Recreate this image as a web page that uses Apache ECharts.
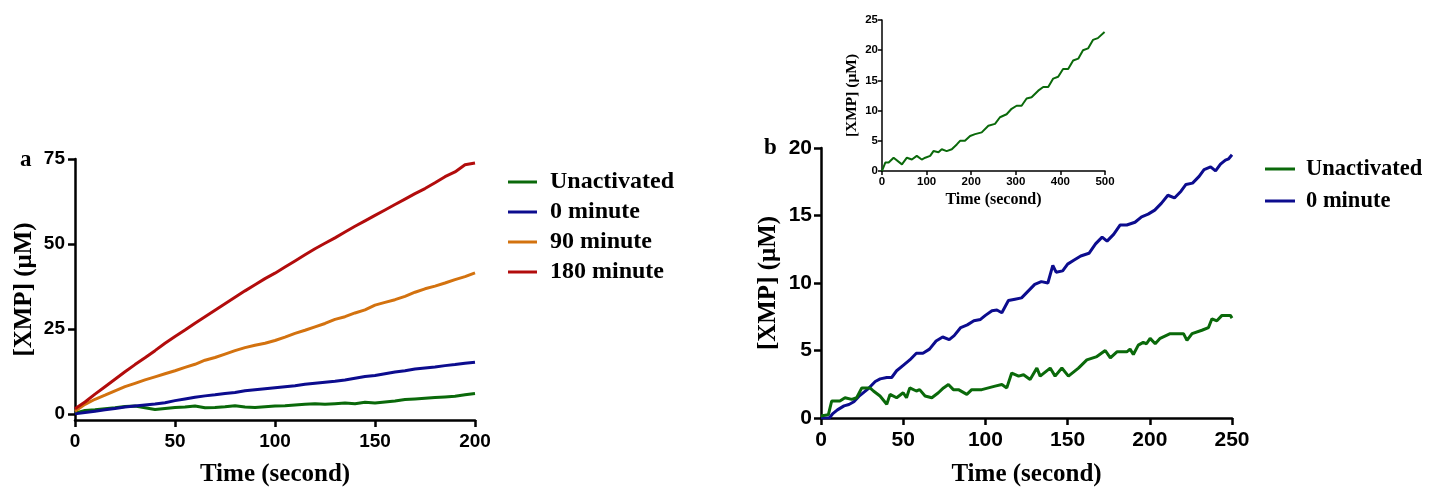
<!DOCTYPE html>
<html>
<head>
<meta charset="utf-8">
<script src="https://cdn.jsdelivr.net/npm/echarts@6/dist/echarts.min.js"></script>
<style>
  html, body { margin: 0; padding: 0; background: #fff; }
  #chart { width: 1429px; height: 492px; }
</style>
</head>
<body>
<div id="chart"></div>
<script>
// ---------- Panel a: XMP formation, 0–200 s, sampled every 5 s ----------
const timeA = [0,5,10,15,20,25,30,35,40,45,50,55,60,65,70,75,80,85,90,95,100,
  105,110,115,120,125,130,135,140,145,150,155,160,165,170,175,180,185,190,195,200];
const aUnactivated = [0.2,1.0,1.2,1.5,1.8,2.2,2.3,1.8,1.3,1.6,1.9,2.0,2.3,1.8,1.9,2.1,2.4,2.0,1.9,2.1,2.3,
  2.4,2.6,2.8,3.0,2.8,3.0,3.2,3.0,3.4,3.2,3.5,3.8,4.2,4.4,4.6,4.8,5.0,5.2,5.6,6.0];
const a0min = [0,0.4,0.8,1.2,1.6,2.0,2.3,2.6,2.9,3.3,3.9,4.4,4.9,5.3,5.6,6.0,6.3,6.8,7.1,7.4,7.7,
  8.0,8.3,8.7,9.0,9.3,9.6,10.0,10.5,11.0,11.3,11.8,12.3,12.7,13.2,13.5,13.8,14.2,14.5,14.9,15.2];
const a90min = [0.8,2.8,4.3,5.5,6.8,8.0,9.0,10.0,10.9,11.8,12.7,13.7,14.6,15.8,16.6,17.6,18.6,19.5,20.2,20.8,21.6,
  22.6,23.7,24.6,25.6,26.6,27.8,28.6,29.7,30.6,32.0,32.8,33.6,34.6,35.8,36.8,37.6,38.5,39.5,40.4,41.5];
const a180min = [1.5,3.5,5.8,8.0,10.2,12.4,14.5,16.5,18.6,20.8,22.8,24.7,26.7,28.6,30.5,32.4,34.3,36.2,38.0,39.8,41.4,
  43.2,45.0,46.8,48.6,50.2,51.8,53.5,55.2,56.8,58.4,60.0,61.6,63.2,64.8,66.3,68.0,69.8,71.2,73.3,73.8];
const aYTicks = [0, 25, 50, 75];

// ---------- Panel b: 0–250 s ----------
const bTimeBlue = [0,5,7,10,14,17,20,23,26,29,33,36,40,43,46,50,54,58,62,66,70,74,78,81,85,89,93,97,100,
  104,107,110,114,118,122,126,130,134,138,141,143,147,150,154,158,163,167,171,174,178,182,186,191,195,199,
  203,207,211,215,219,222,226,230,233,237,240,243,246,248,250];
const b0min = [0,0,0.3,0.6,0.9,1.0,1.2,1.6,1.9,2.2,2.7,2.9,3.0,3.0,3.5,3.9,4.3,4.8,4.8,5.1,5.7,6.0,5.8,6.1,6.7,6.9,7.2,7.3,7.6,
  7.95,8.0,7.8,8.7,8.8,8.9,9.4,9.9,10.1,10.0,11.3,10.8,10.9,11.4,11.7,12.0,12.2,12.9,13.4,13.1,13.6,14.3,14.3,14.5,14.9,15.1,
  15.4,15.9,16.5,16.3,16.8,17.3,17.4,17.9,18.4,18.6,18.3,18.8,19.1,19.2,19.5];
const bTimeGreen = [0,4.5,6.5,11.5,14.6,18.7,21.7,24.8,29.8,31.9,35.9,40,42,46,50,52,54,58,60,63.3,67.4,71.4,74.5,77.5,80.5,
  83.6,88.7,91.7,97.8,105.9,110,113,116,120.2,123.2,127.2,131.3,133.3,139.4,142.4,146.5,150.5,156.6,161.7,167.8,
  172.9,176,180,186,188,190,193,196,198,200.2,203.3,206.3,212.4,220.5,222.6,225.7,231.7,235.7,237.8,240.8,243.9,249,250];
const bUnactivated = [0.15,0.25,1.26,1.26,1.5,1.38,1.5,2.23,2.23,2.0,1.63,1.02,1.75,1.5,1.87,1.5,2.23,2.0,2.1,1.63,1.5,1.87,2.23,2.48,2.1,
  2.1,1.75,2.1,2.1,2.36,2.48,2.23,3.33,3.1,3.2,2.85,3.7,3.1,3.7,3.1,3.7,3.1,3.7,4.3,4.55,
  5.0,4.45,4.9,4.9,5.1,4.7,5.4,5.6,5.5,5.9,5.5,5.9,6.25,6.25,5.75,6.25,6.5,6.7,7.35,7.2,7.6,7.6,7.4];

// ---------- Inset: unactivated enzyme over 0–500 s ----------
const insetTime = [0,7.4,14.9,26,28.6,44.7,55.8,67,78,89,97,108,115.4,126.6,134,145,156.5,167.7,175,186,197.5,208.7,223.6,
  238.5,253.4,264.5,279.4,290.6,301.8,313,324.2,335.4,350.3,361.5,372.7,383.9,395,406,417.4,428.6,440,450.7,462,473,484,499];
const insetValues = [0,1.4,1.4,2.2,2.2,1.1,2.2,1.9,2.5,1.9,2.2,2.5,3.3,3.1,3.6,3.3,3.6,4.4,5.0,5.0,5.8,6.1,6.4,
  7.5,7.8,8.9,9.4,10.3,10.8,10.8,12.0,12.2,13.3,13.9,13.9,15.3,15.6,16.9,16.9,18.3,18.6,20.0,20.3,21.7,22.0,23.0];

const seriesNames = ['Unactivated', '0 minute', '90 minute', '180 minute'];
const colors = { green: '#0a690a', blue: '#0c0c8e', orange: '#d3720f', red: '#b20c0c' };

const pairs = (xs, ys) => xs.map((x, i) => [x, ys[i]]);

const SANS = 'Liberation Sans, Arial, sans-serif';
const SERIF = 'Liberation Serif, Times New Roman, serif';

function axisBase(opts) {
  return Object.assign({
    type: 'value',
    splitLine: { show: false },
    axisLine: { show: true, onZero: false, lineStyle: { color: '#000', width: 2.5 } },
    axisTick: { show: true, length: 7, lineStyle: { color: '#000', width: 2.5 } },
    axisLabel: { color: '#000', fontFamily: SANS, fontWeight: 'bold', fontSize: 19 },
    nameLocation: 'middle',
    nameTextStyle: { color: '#000', fontFamily: SERIF, fontWeight: 'bold', fontSize: 25 }
  }, opts);
}

const lineSeries = (name, data, color, xi, yi, width) => ({
  name, type: 'line', data, xAxisIndex: xi, yAxisIndex: yi,
  showSymbol: false, symbol: 'none', animation: false,
  lineStyle: { color, width: width || 3 }, itemStyle: { color }
});

const chart = echarts.init(document.getElementById('chart'), null, { renderer: 'canvas' });

chart.setOption({
  backgroundColor: '#fff',
  animation: false,
  title: [
    { text: 'a', left: 15, top: 144, textStyle: { fontFamily: SERIF, fontWeight: 'bold', fontSize: 23, color: '#000' } },
    { text: 'b', left: 759, top: 132, textStyle: { fontFamily: SERIF, fontWeight: 'bold', fontSize: 23, color: '#000' } }
  ],
  grid: [
    { left: 75, top: 159, width: 400, height: 266 },
    { left: 821, top: 148, width: 411, height: 275 },
    { left: 882, top: 20, width: 223, height: 151 }
  ],
  xAxis: [
    axisBase({ gridIndex: 0, min: 0, max: 200, interval: 50, name: 'Time (second)', nameGap: 42,
      axisLabel: { color: '#000', fontFamily: SANS, fontWeight: 'bold', fontSize: 19, margin: 12 } }),
    axisBase({ gridIndex: 1, min: 0, max: 250, interval: 50, name: 'Time (second)', nameGap: 44,
      axisLabel: { color: '#000', fontFamily: SANS, fontWeight: 'bold', fontSize: 21, margin: 12 } }),
    axisBase({ gridIndex: 2, min: 0, max: 500, interval: 100, name: 'Time (second)', nameGap: 21,
      axisLine: { show: true, lineStyle: { color: '#000', width: 1.5 } },
      axisTick: { show: true, length: 4, lineStyle: { color: '#000', width: 1.5 } },
      axisLabel: { color: '#000', fontFamily: SANS, fontWeight: 'bold', fontSize: 11.5, margin: 5 },
      nameTextStyle: { color: '#000', fontFamily: SERIF, fontWeight: 'bold', fontSize: 16 } })
  ],
  yAxis: [
    axisBase({ gridIndex: 0, min: -1.8, max: 75, name: '[XMP] (μM)', nameGap: 38,
      axisTick: { show: true, length: 7, customValues: aYTicks, lineStyle: { color: '#000', width: 2.5 } },
      axisLabel: { color: '#000', fontFamily: SANS, fontWeight: 'bold', fontSize: 19, margin: 10, customValues: aYTicks } }),
    axisBase({ gridIndex: 1, min: 0, max: 20, interval: 5, name: '[XMP] (μM)', nameGap: 40,
      axisLabel: { color: '#000', fontFamily: SANS, fontWeight: 'bold', fontSize: 21, margin: 9 } }),
    axisBase({ gridIndex: 2, min: 0, max: 25, interval: 5, name: '[XMP] (μM)', nameGap: 22,
      axisLine: { show: true, lineStyle: { color: '#000', width: 1.5 } },
      axisTick: { show: true, length: 4, lineStyle: { color: '#000', width: 1.5 } },
      axisLabel: { color: '#000', fontFamily: SANS, fontWeight: 'bold', fontSize: 11.5, margin: 4 },
      nameTextStyle: { color: '#000', fontFamily: SERIF, fontWeight: 'bold', fontSize: 15.5 } })
  ],
  legend: [
    {
      data: seriesNames, orient: 'vertical', left: 503, top: 165,
      icon: 'rect', itemWidth: 29, itemHeight: 3, itemGap: 6, selectedMode: false,
      textStyle: { fontFamily: SERIF, fontWeight: 'bold', fontSize: 24, color: '#000', lineHeight: 24, padding: [0, 0, 0, 8] }
    },
    {
      data: seriesNames.slice(0, 2), orient: 'vertical', left: 1260, top: 152,
      icon: 'rect', itemWidth: 30, itemHeight: 3, itemGap: 8, selectedMode: false,
      textStyle: { fontFamily: SERIF, fontWeight: 'bold', fontSize: 22.5, color: '#000', lineHeight: 24, padding: [0, 0, 0, 6] }
    }
  ],
  series: [
    lineSeries('Unactivated', pairs(timeA, aUnactivated), colors.green, 0, 0),
    lineSeries('0 minute', pairs(timeA, a0min), colors.blue, 0, 0),
    lineSeries('90 minute', pairs(timeA, a90min), colors.orange, 0, 0),
    lineSeries('180 minute', pairs(timeA, a180min), colors.red, 0, 0),
    lineSeries('0 minute', pairs(bTimeBlue, b0min), colors.blue, 1, 1),
    lineSeries('Unactivated', pairs(bTimeGreen, bUnactivated), colors.green, 1, 1),
    lineSeries('Unactivated 500 s', pairs(insetTime, insetValues), colors.green, 2, 2, 2)
  ]
});
</script>
</body>
</html>
